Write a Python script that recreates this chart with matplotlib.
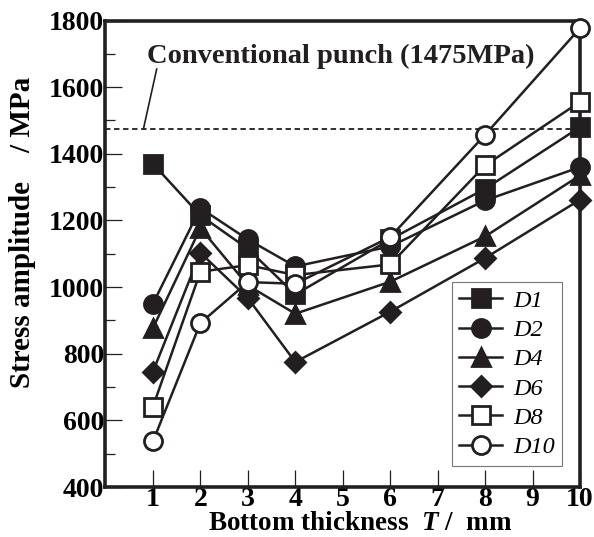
import matplotlib.pyplot as plt

# bottom thickness T (mm)
thickness = [1, 2, 3, 4, 6, 8, 10]

# stress amplitude (MPa) per punch diameter series
d1 = [1370, 1215, 1115, 978, 1143, 1295, 1480]
d2 = [950, 1237, 1143, 1062, 1122, 1260, 1360]
d4 = [877, 1177, 1005, 920, 1016, 1152, 1335]
d6 = [746, 1103, 967, 775, 926, 1087, 1262]
d8 = [641, 1046, 1066, 1036, 1068, 1365, 1556]
d10 = [537, 892, 1015, 1010, 1150, 1457, 1777]

series = [('D1', d1), ('D2', d2), ('D4', d4), ('D6', d6), ('D8', d8), ('D10', d10)]
conventional = 1475

plt.rcParams['font.family'] = ['Liberation Serif', 'DejaVu Serif']
plt.rcParams['mathtext.fontset'] = 'custom'
plt.rcParams['mathtext.rm'] = 'Liberation Serif:bold'
plt.rcParams['mathtext.it'] = 'Liberation Serif:bold:italic'
plt.rcParams['mathtext.bf'] = 'Liberation Serif:bold'
plt.rcParams['mathtext.bfit'] = 'Liberation Serif:bold:italic'
ink = '#231f20'

fig = plt.figure(figsize=(5.94, 5.37), dpi=100)
ax = fig.add_axes([0.1776, 0.0931, 0.7988, 0.8687])

styles = {
    'D1': dict(marker='s', ms=13, mfc=ink),
    'D2': dict(marker='o', ms=13, mfc=ink),
    'D4': dict(marker='^', ms=13, mfc=ink),
    'D6': dict(marker='D', ms=10.5, mfc=ink),
    'D8': dict(marker='s', ms=13, mfc='white'),
    'D10': dict(marker='o', ms=13, mfc='white'),
}

for name, vals in series:
    ax.plot(thickness, vals, color=ink, lw=1.8, mec=ink, mew=2,
            label=name, clip_on=False, zorder=3, **styles[name])

# conventional punch level with its leader line and note
ax.axhline(conventional, color=ink, lw=1.3, ls=(0, (3, 2)), zorder=2)
ax.annotate('', xy=(0.80, conventional), xytext=(1.08, 1655),
            arrowprops=dict(arrowstyle='-', color=ink, lw=1.2, shrinkA=0, shrinkB=0))
ax.text(0.88, 1692, 'Conventional punch (1475MPa)', fontsize=20.5,
        fontweight='bold', color=ink, va='center', ha='left')

ax.set_xlim(0, 10)
ax.set_ylim(400, 1800)
ax.set_xticks(range(1, 11))
ax.set_yticks(range(400, 1801, 200))
ax.set_yticks(range(500, 1800, 200), minor=True)

for s in ax.spines.values():
    s.set_linewidth(2.6)
    s.set_color(ink)

ax.tick_params(axis='both', which='major', direction='in', length=12, width=0.9,
               color=ink, labelsize=20)
ax.tick_params(axis='y', which='minor', direction='in', length=7, width=0.9, color=ink)
for lab in ax.get_xticklabels() + ax.get_yticklabels():
    lab.set_fontweight('bold')
ax.tick_params(axis='x', pad=0)
ax.tick_params(axis='y', pad=1)

ax.set_xlabel(r'Bottom thickness  $\mathbfit{T}$ /  mm', fontsize=19.5,
              fontweight='bold')
ax.xaxis.set_label_coords(0.536, -0.052)
ax.set_ylabel('Stress amplitude    / MPa', fontsize=21, fontweight='bold')
ax.yaxis.set_label_coords(-0.146, 0.545)

leg = ax.legend(loc='lower right', bbox_to_anchor=(0.962, 0.046), borderaxespad=0,
                frameon=True, fancybox=False, edgecolor='#555555', handlelength=1.75,
                handletextpad=0.45, labelspacing=0.3, borderpad=0.3,
                prop={'family': 'Liberation Serif', 'style': 'italic', 'size': 17.5})
leg.get_frame().set_linewidth(0.8)

fig.savefig('out.png', dpi=100)
